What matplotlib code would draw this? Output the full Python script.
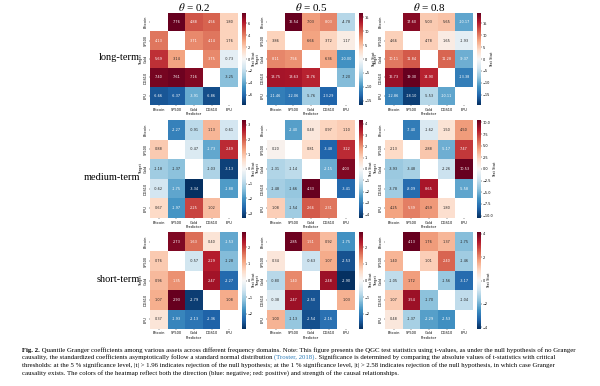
"""Quantile Granger heatmaps (3 horizons x 3 quantiles) with the figure caption"""

import numpy as np
import matplotlib
matplotlib.use("Agg")
import matplotlib.pyplot as plt
import seaborn as sns

assets = ["Bitcoin", "SP500", "Gold", "DGS10", "EPU"]
quantiles = ["0.2", "0.5", "0.8"]
horizons = ["long-term", "medium-term", "short-term"]

nan = np.nan
# rows = target, cols = predictor
long_02 = [[nan, 7.76, 4.88, 4.56, 1.80],
           [4.13, nan, 3.71, 4.14, 1.76],
           [5.69, 3.14, nan, 3.75, -0.73],
           [7.40, 7.61, 7.16, nan, -3.25],
           [-6.66, -6.37, -3.91, -6.86, nan]]
long_05 = [[nan, 16.54, 7.03, 8.03, -4.78],
           [3.86, nan, 6.66, 3.72, 1.17],
           [8.11, 7.56, nan, 6.36, -10.00],
           [13.75, 13.63, 12.76, nan, -7.20],
           [-11.46, -12.06, -5.76, -13.29, nan]]
long_08 = [[nan, 17.60, 5.03, 5.65, -10.17],
           [4.66, nan, 4.78, 1.65, -1.93],
           [10.11, 11.84, nan, 11.28, -9.37],
           [16.73, 19.30, 14.90, nan, -13.38],
           [-12.86, -18.10, -5.53, -10.11, nan]]
medium_02 = [[nan, -2.27, -0.91, 1.13, -0.61],
             [0.88, nan, -0.47, -1.73, 2.49],
             [-1.18, -1.37, nan, -1.03, -3.13],
             [-0.62, -1.75, -3.34, nan, -1.88],
             [0.67, -1.97, 2.25, 1.02, nan]]
medium_05 = [[nan, -2.40, 0.48, 0.97, 1.10],
             [0.20, nan, 0.81, -3.48, 3.22],
             [-1.31, -1.14, nan, -2.15, 4.03],
             [-1.48, -1.66, 4.33, nan, -3.41],
             [1.08, -1.54, 2.66, 2.31, nan]]
medium_08 = [[nan, -7.40, -1.62, 1.50, 4.50],
             [2.13, nan, 2.88, -5.17, 7.47],
             [-3.93, -3.48, nan, -2.26, 10.53],
             [-3.78, -8.09, 8.65, nan, -5.58],
             [4.25, 5.39, 4.59, 1.80, nan]]
short_02 = [[nan, 2.73, 1.63, 0.40, -1.53],
            [0.76, nan, -0.57, 2.29, -1.28],
            [0.96, 1.35, nan, 2.47, -2.27],
            [1.07, 2.93, -2.79, nan, 1.08],
            [0.37, -1.93, -2.13, -2.36, nan]]
short_05 = [[nan, 2.85, 1.51, 0.92, -1.75],
            [0.34, nan, -0.63, 1.07, -2.53],
            [-0.80, 1.40, nan, 2.48, -2.90],
            [-0.38, 2.47, -2.50, nan, 1.03],
            [1.00, -1.13, -2.54, -2.16, nan]]
short_08 = [[nan, 4.13, 1.76, 1.37, -1.75],
            [1.40, nan, 1.01, 2.40, -1.46],
            [-1.05, 1.72, nan, -1.56, -3.17],
            [1.07, 3.54, -1.70, nan, -1.04],
            [0.48, -1.37, -2.29, -2.53, nan]]

panels = [[long_02, long_05, long_08],
          [medium_02, medium_05, medium_08],
          [short_02, short_05, short_08]]
cbar_steps = [[2, 5, 5], [1, 1, 2.5], [1, 1, 2]]

caption_lines = [
    "Quantile Granger coefficients among various assets across different frequency domains. Note: This figure presents the QGC test statistics using t-values, as under the null hypothesis of no Granger",
    "causality, the standardized coefficients asymptotically follow a standard normal distribution ",
    "thresholds: at the 5 % significance level, |t| > 1.96 indicates rejection of the null hypothesis; at the 1 % significance level, |t| > 2.58 indicates rejection of the null hypothesis, in which case Granger",
    "causality exists. The colors of the heatmap reflect both the direction (blue: negative; red: positive) and strength of the causal relationships.",
]
line2_tail = ". Significance is determined by comparing the absolute values of t-statistics with critical"

W, H = 600, 386
plt.rcParams["mathtext.fontset"] = "stix"
fig = plt.figure(figsize=(W / 100, H / 100), dpi=100)


def box(x, y, w, h):
    """pixel box (top-left origin) -> figure fraction"""
    return [x / W, 1 - (y + h) / H, w / W, h / H]


col_x = [150, 267, 385]
row_y = [(13, 92), (120, 98), (232, 97)]
label_y = [58, 178, 279]
small = 2.5

for r in range(3):
    y0, hh = row_y[r]
    for c in range(3):
        data = np.array(panels[r][c], dtype=float)
        ax = fig.add_axes(box(col_x[c], y0, 88, hh))
        cax = fig.add_axes(box(col_x[c] + 91.5, y0, 4, hh))
        lim = np.nanmax(np.abs(data))
        mask = np.eye(5, dtype=bool)
        sns.heatmap(data, mask=mask, ax=ax, cbar_ax=cax, cmap="RdBu_r",
                    vmin=-lim, vmax=lim, annot=True, fmt=".2f",
                    annot_kws={"size": small}, xticklabels=assets,
                    yticklabels=assets, square=False)
        ax.tick_params(length=1, width=0.3, pad=0.8, labelsize=small)
        ax.set_yticklabels(assets, rotation=90, va="center")
        ax.set_xticklabels(assets, rotation=0)
        ax.set_xlabel("Predictor", fontsize=small, labelpad=0.5)
        ax.set_ylabel("Target", fontsize=small, labelpad=0)
        step = cbar_steps[r][c]
        top = np.floor(lim / step) * step
        cax.set_yticks(np.arange(-top, top + step / 2, step))
        cax.tick_params(length=0.8, width=0.3, pad=0.5, labelsize=small)
        cax.set_ylabel("Test Stat", fontsize=small, labelpad=0)
        if r == 0:
            ax.set_title(r"$\theta$ = " + quantiles[c], fontsize=8,
                         family="Liberation Serif", pad=1.5)
    fig.text(140 / W, 1 - label_y[r] / H, horizons[r], ha="right",
             va="center", fontsize=7.5, family="Liberation Serif")

# caption
cap = fig.add_axes([0, 0, 1, 1])
cap.axis("off")
cap.set_xlim(0, W)
cap.set_ylim(H, 0)
fs = 4.85
kw = dict(fontsize=fs, family="Liberation Serif", va="bottom")
line_y = [353, 360.5, 368, 375.5]
t = cap.text(22, line_y[0], "Fig. 2.", weight="bold", **kw)
cap.annotate(" " + caption_lines[0], xy=(1, 0), xycoords=t, **kw)
t = cap.text(22, line_y[1], caption_lines[1], **kw)
t = cap.annotate("(Troster, 2018)", xy=(1, 0), xycoords=t, color="#2a7ab8", **kw)
cap.annotate(line2_tail, xy=(1, 0), xycoords=t, **kw)
cap.text(22, line_y[2], caption_lines[2], **kw)
cap.text(22, line_y[3], caption_lines[3], **kw)

fig.savefig("out.png", dpi=100, facecolor="white")
